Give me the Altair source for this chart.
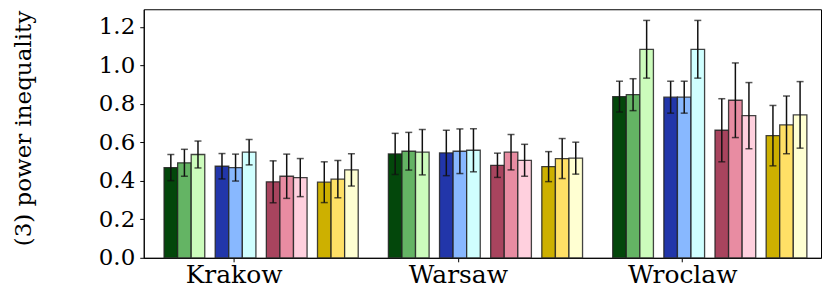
import altair as alt
import pandas as pd

# ---- data ----
cities = ["Krakow", "Warsaw", "Wroclaw"]
series = ["g1", "g2", "g3", "b1", "b2", "b3", "p1", "p2", "p3", "y1", "y2", "y3"]
colors = ["#03470b", "#64b464", "#ccfcbc",
          "#2236aa", "#88b8ff", "#d0ffff",
          "#a8445e", "#e88ca2", "#ffd0de",
          "#cdb000", "#ffe066", "#ffffd2"]

krakow_vals = [0.469, 0.494, 0.537, 0.476, 0.469, 0.549, 0.395, 0.424, 0.417, 0.393, 0.409, 0.457]
krakow_err = [0.068, 0.070, 0.070, 0.066, 0.070, 0.066, 0.109, 0.115, 0.099, 0.106, 0.097, 0.084]
warsaw_vals = [0.540, 0.554, 0.549, 0.545, 0.554, 0.559, 0.481, 0.549, 0.507, 0.474, 0.516, 0.518]
warsaw_err = [0.107, 0.098, 0.118, 0.118, 0.116, 0.112, 0.063, 0.092, 0.083, 0.078, 0.104, 0.083]
wroclaw_vals = [0.838, 0.848, 1.084, 0.835, 0.835, 1.084, 0.663, 0.819, 0.739, 0.635, 0.691, 0.743]
wroclaw_err = [0.080, 0.083, 0.150, 0.083, 0.083, 0.150, 0.164, 0.194, 0.172, 0.157, 0.150, 0.173]

y_ticks = [0.0, 0.2, 0.4, 0.6, 0.8, 1.0, 1.2]

# ---- layout (in city units) ----
BAR_W = 0.0605
GROUP_STEP = 0.228
FIRST_LEFT = -0.310

rows = []
for ci, (vals, errs) in enumerate([(krakow_vals, krakow_err),
                                    (warsaw_vals, warsaw_err),
                                    (wroclaw_vals, wroclaw_err)]):
    for si, (v, e) in enumerate(zip(vals, errs)):
        g, b = divmod(si, 3)
        left = ci + FIRST_LEFT + g * GROUP_STEP + b * BAR_W
        rows.append({"city": cities[ci], "series": series[si],
                     "x0": left, "x1": left + BAR_W, "xc": left + BAR_W / 2,
                     "value": v, "lo": v - e, "hi": v + e})
df = pd.DataFrame(rows)

FONT = "DejaVu Serif"
label_expr = "datum.value == 0 ? 'Krakow' : datum.value == 1 ? 'Warsaw' : 'Wroclaw'"

xscale = alt.Scale(domain=[-0.4005, 2.6185], nice=False, zero=False)
yscale = alt.Scale(domain=[0, 1.292], nice=False)

x_axis = alt.Axis(values=[0, 1, 2], labelExpr=label_expr, title=None, grid=False,
                  labelFont=FONT, labelFontSize=25, labelColor="black",
                  tickSize=4, tickColor="black", domainColor="black",
                  labelPadding=1)
y_axis = alt.Axis(values=y_ticks, format=".1f", grid=False,
                  title="(3) power inequality", titleFont=FONT, titleFontSize=23,
                  titleFontWeight="normal", titleColor="black",
                  titleAngle=-90, titleAlign="center", titleBaseline="alphabetic",
                  titleX=-113, titleY=119,
                  labelFont=FONT, labelFontSize=23, labelColor="black",
                  tickSize=4, tickColor="black", domainColor="black",
                  labelPadding=5)

base = alt.Chart(df)

bars = base.mark_bar(stroke="#222222", strokeWidth=1.3, strokeOpacity=0.85).encode(
    x=alt.X("x0:Q", scale=xscale, axis=x_axis),
    x2="x1:Q",
    y=alt.Y("value:Q", scale=yscale, axis=y_axis),
    y2=alt.datum(0),
    color=alt.Color("series:N", scale=alt.Scale(domain=series, range=colors), legend=None),
)

err_rule = base.mark_rule(color="#111111", strokeWidth=1.5).encode(
    x=alt.X("xc:Q", scale=xscale, axis=x_axis),
    y=alt.Y("lo:Q", scale=yscale, axis=y_axis),
    y2="hi:Q",
)
cap_lo = base.mark_tick(color="#111111", orient="horizontal", size=7, thickness=1.5).encode(
    x=alt.X("xc:Q", scale=xscale, axis=x_axis),
    y=alt.Y("lo:Q", scale=yscale, axis=y_axis),
)
cap_hi = base.mark_tick(color="#111111", orient="horizontal", size=7, thickness=1.5).encode(
    x=alt.X("xc:Q", scale=xscale, axis=x_axis),
    y=alt.Y("hi:Q", scale=yscale, axis=y_axis),
)

chart = alt.layer(bars, err_rule, cap_lo, cap_hi).properties(
    width=678.5, height=249,
    autosize=alt.AutoSizeParams(type="none"),
    padding={"left": 136, "top": 1, "right": 2, "bottom": 40},
).configure(font=FONT).configure_view(stroke="black", strokeWidth=1).configure_axis(
    domainWidth=1, tickWidth=1, labelFont=FONT, titleFont=FONT)

chart.save("out.html", embed_options={"renderer": "svg", "actions": False})
